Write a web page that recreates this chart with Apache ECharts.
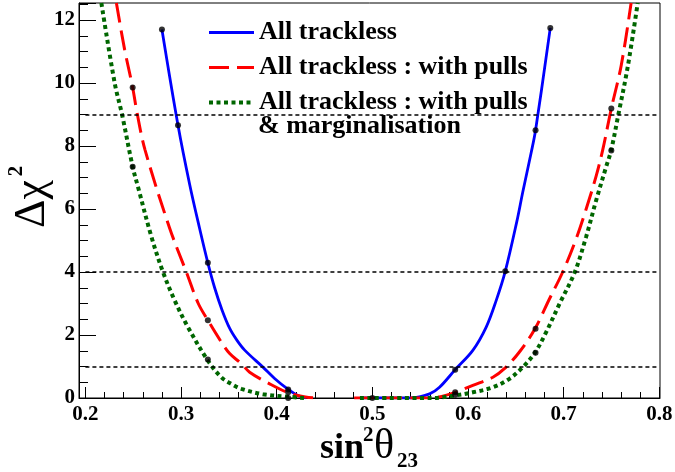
<!DOCTYPE html>
<html><head><meta charset="utf-8">
<script src="https://cdn.jsdelivr.net/npm/echarts@6/dist/echarts.min.js"></script>
<style>html,body{margin:0;padding:0;background:#fff}#c{width:675px;height:472px}</style>
</head><body><div id="c"></div>
<script>
const seriesNames = ['All trackless', 'All trackless : with pulls', 'All trackless : with pulls & marginalisation'];
const blueCurve = [[0.280,11.70],[0.2968,8.66],[0.309,6.78],[0.3194,5.38],[0.328,4.29],[0.3351,3.5],[0.343,2.78],[0.351,2.2],[0.3585,1.83],[0.3665,1.52],[0.3856,0.98],[0.3978,0.62],[0.412,0.27],[0.422,0.08],[0.431,0],[0.46,null],[0.49,0],[0.54,0],[0.5598,0.13],[0.5702,0.34],[0.5866,0.9],[0.605,1.51],[0.619,2.25],[0.6295,3.10],[0.6389,4.02],[0.651,5.6],[0.6573,6.55],[0.6661,7.8],[0.6706,8.5],[0.686,11.75]];
const redCurve = [[0.2324,12.54],[0.241,11.06],[0.2494,9.86],[0.254,9.05],[0.2624,7.87],[0.288,5.4],[0.3055,4.0],[0.318,3.0],[0.328,2.47],[0.342,1.78],[0.3508,1.41],[0.363,1.09],[0.3717,0.82],[0.3926,0.45],[0.412,0.17],[0.43,0.03],[0.443,0],[0.46,null],[0.481,0],[0.56,0],[0.570,0.03],[0.5866,0.18],[0.605,0.4],[0.626,0.66],[0.638,0.93],[0.6537,1.46],[0.670,2.2],[0.6852,3.15],[0.699,4.0],[0.713,5.05],[0.7235,6.0],[0.734,7.05],[0.741,7.9],[0.7498,9.19],[0.7601,10.55],[0.7705,12.54]];
const greenCurve = [[0.2167,12.54],[0.2306,10.0],[0.2383,9.0],[0.2494,7.34],[0.255,6.7],[0.269,5.12],[0.2811,4.0],[0.2933,3.1],[0.3072,2.25],[0.328,1.19],[0.342,0.66],[0.354,0.42],[0.363,0.29],[0.3856,0.12],[0.412,0.04],[0.43,0],[0.46,null],[0.487,0],[0.563,0],[0.575,0.03],[0.5866,0.08],[0.605,0.18],[0.626,0.34],[0.6433,0.61],[0.6573,0.98],[0.670,1.44],[0.6817,2.09],[0.6958,3.0],[0.7114,3.98],[0.7235,5.12],[0.734,6.28],[0.7444,7.34],[0.7496,7.86],[0.7572,9.0],[0.767,10.52],[0.7774,12.54]];
const blueDots = [[0.28,11.7],[0.2968,8.66],[0.328,4.29],[0.412,0.27],[0.5,0],[0.5866,0.9],[0.6389,4.02],[0.6706,8.5],[0.686,11.75]];
const redDots = [[0.2494,9.86],[0.328,2.47],[0.412,0.18],[0.5866,0.18],[0.6706,2.2],[0.7498,9.19]];
const greenDots = [[0.2494,7.34],[0.328,1.22],[0.412,0],[0.5866,0.1],[0.6706,1.44],[0.7498,7.86]];
const levels = [1, 4, 9];
const xTicks = [0.2, 0.3, 0.4, 0.5, 0.6, 0.7, 0.8];
const yTickLabels = [0, 2, 4, 6, 8, 10, 12];

const xMin = 0.1933, xMax = 0.8007, yMax = 12.54;
const xMinor = [];
for (let i = 0; i < xTicks.length - 1; i++) {
  for (let k = 1; k < 5; k++) xMinor.push(+(xTicks[i] + (xTicks[i+1]-xTicks[i])*k/5).toFixed(4));
}
const F = 'Liberation Serif';
const chart = echarts.init(document.getElementById('c'), null, {renderer: 'canvas'});
const lineBase = {type: 'line', showSymbol: false, symbol: 'none', smooth: 0.35, connectNulls: false, clip: true};
chart.setOption({
  animation: false,
  backgroundColor: '#fff',
  grid: {left: 79, right: 15, top: 3, bottom: 74, show: true, borderColor: '#000', borderWidth: 1, backgroundColor: 'transparent', containLabel: false, outerBoundsMode: 'none'},
  legend: {
    orient: 'vertical', left: 202, top: 14.5, itemWidth: 45, itemHeight: 14, itemGap: 9,
    data: seriesNames,
    formatter: n => n.replace(' & marginalisation', ''),
    itemStyle: {opacity: 0},
    lineStyle: {width: 'inherit'},
    textStyle: {fontFamily: F, fontWeight: 'bold', fontSize: 26, lineHeight: 25, color: '#000'},
    selectedMode: false
  },
  xAxis: [{
    type: 'value', min: xMin, max: xMax,
    axisLine: {show: true, lineStyle: {color: '#000', width: 1}},
    axisTick: {show: true, inside: true, length: 11, customValues: xTicks, lineStyle: {color: '#000', width: 1}},
    axisLabel: {customValues: xTicks, formatter: v => v.toFixed(1), margin: 6, fontFamily: F, fontWeight: 'bold', fontSize: 21, color: '#000'},
    splitLine: {show: false}
  }, {
    type: 'value', min: xMin, max: xMax, position: 'bottom', gridIndex: 0,
    axisLine: {show: false},
    axisTick: {show: true, inside: true, length: 6, customValues: xMinor, lineStyle: {color: '#000', width: 1}},
    axisLabel: {show: false},
    splitLine: {show: false}
  }],
  yAxis: {
    type: 'value', min: 0, max: yMax, interval: 2,
    axisLine: {show: true, lineStyle: {color: '#000', width: 1}},
    axisTick: {show: true, inside: true, length: 17, lineStyle: {color: '#000', width: 1}},
    minorTick: {show: true, splitNumber: 4, length: 9, lineStyle: {color: '#000', width: 1}},
    axisLabel: {customValues: yTickLabels, margin: 4, fontFamily: F, fontWeight: 'bold', fontSize: 21, color: '#000'},
    splitLine: {show: false}, minorSplitLine: {show: false}
  },
  series: [
    Object.assign({}, lineBase, {name: seriesNames[0], data: blueCurve, z: 3,
      lineStyle: {color: '#0000ff', width: 2.8}, itemStyle: {color: '#0000ff'},
      markLine: {silent: true, symbol: 'none', label: {show: false}, animation: false,
        lineStyle: {color: '#000', width: 1.6, type: [4, 3]},
        data: levels.map(v => [{coord: [xTicks[0], v]}, {coord: [xTicks[xTicks.length-1], v]}])}}),
    Object.assign({}, lineBase, {name: seriesNames[1], data: redCurve, z: 3,
      lineStyle: {color: '#ff0000', width: 3, type: [20, 8], cap: 'butt'}, itemStyle: {color: '#ff0000'}}),
    Object.assign({}, lineBase, {name: seriesNames[2], data: greenCurve, z: 3,
      lineStyle: {color: '#006600', width: 4, type: [4, 3.5], cap: 'butt'}, itemStyle: {color: '#006600'}}),
    {type: 'scatter', data: blueDots, symbol: 'circle', symbolSize: 6, itemStyle: {color: '#000'}, z: 5, silent: true},
    {type: 'scatter', data: redDots, symbol: 'circle', symbolSize: 6, itemStyle: {color: '#000'}, z: 5, silent: true},
    {type: 'scatter', data: greenDots, symbol: 'circle', symbolSize: 6, itemStyle: {color: '#000'}, z: 5, silent: true}
  ],
  graphic: [
    {type: 'text', left: 258, top: 113, style: {text: '& marginalisation', font: 'bold 26px "Liberation Serif"', fill: '#000'}},
    {type: 'text', x: 32, y: 204, rotation: Math.PI/2, style: {text: 'Δχ', x: 0, y: 0, align: 'center', verticalAlign: 'middle', font: '44px "Liberation Serif"', fill: '#000'}},
    {type: 'text', x: 17, y: 171, rotation: Math.PI/2, style: {text: '2', x: 0, y: 0, align: 'center', verticalAlign: 'middle', font: 'bold 21px "Liberation Serif"', fill: '#000'}},
    {type: 'text', x: 320, y: 449, style: {text: 'sin', x: 0, y: 0, align: 'left', verticalAlign: 'middle', font: 'bold 36px "Liberation Serif"', fill: '#000'}},
    {type: 'text', x: 363, y: 436, style: {text: '2', x: 0, y: 0, align: 'left', verticalAlign: 'middle', font: 'bold 21px "Liberation Serif"', fill: '#000'}},
    {type: 'text', x: 374, y: 447, style: {text: 'θ', x: 0, y: 0, align: 'left', verticalAlign: 'middle', font: '42px "Liberation Serif"', fill: '#000'}},
    {type: 'text', x: 397, y: 462, style: {text: '23', x: 0, y: 0, align: 'left', verticalAlign: 'middle', font: 'bold 21px "Liberation Serif"', fill: '#000'}}
  ]
});
</script></body></html>
